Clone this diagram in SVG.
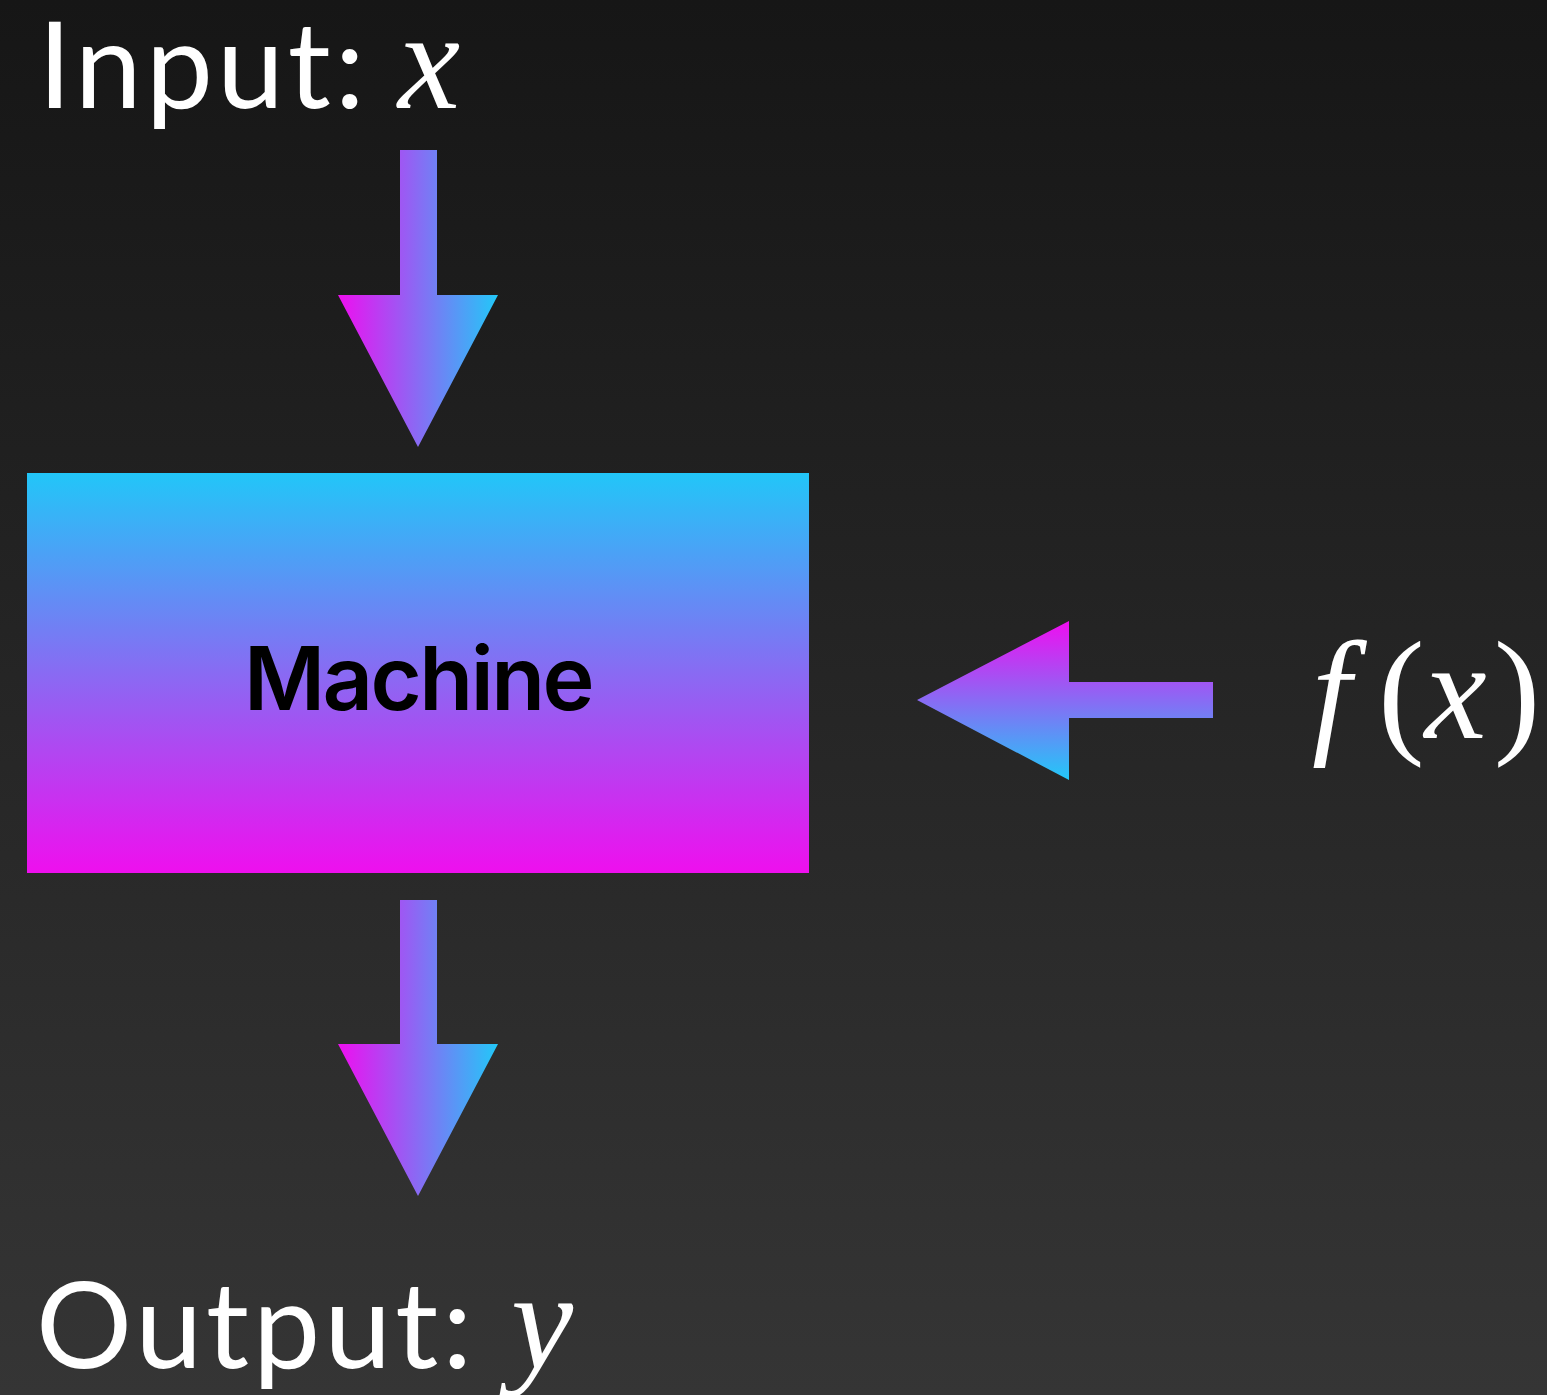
<svg xmlns="http://www.w3.org/2000/svg" width="1547" height="1395" viewBox="0 0 1547 1395">
<defs>
<linearGradient id="bg" x1="0" y1="0" x2="0" y2="1">
<stop offset="0" stop-color="#161616"/>
<stop offset="1" stop-color="#353535"/>
</linearGradient>
<linearGradient id="gh" gradientUnits="objectBoundingBox" x1="0" y1="0" x2="1" y2="0">
<stop offset="0" stop-color="#ef0ef0"/>
<stop offset="1" stop-color="#22c8f8"/>
</linearGradient>
<linearGradient id="gv" x1="0" y1="0" x2="0" y2="1">
<stop offset="0" stop-color="#ef0ef0"/>
<stop offset="1" stop-color="#22c8f8"/>
</linearGradient>
<linearGradient id="gbox" x1="0" y1="0" x2="0" y2="1">
<stop offset="0" stop-color="#22c6f8"/>
<stop offset="1" stop-color="#ef0fee"/>
</linearGradient>
<style>
.lbl{font-family:Lato,"Noto Sans",sans-serif;font-size:120px;fill:#ffffff;letter-spacing:4px}
.math{font-family:"Liberation Serif","DejaVu Serif",serif;font-size:140px;fill:#ffffff;letter-spacing:0}
.it{font-style:italic}
.node{font-family:Inter,"Liberation Sans",sans-serif;font-weight:600;font-size:88px;fill:#000000;letter-spacing:-2.5px}
</style>
</defs>
<rect x="0" y="0" width="1547" height="1395" fill="url(#bg)"/>
<g id="input">
<text class="lbl" x="38" y="108">Input: <tspan class="math it" x="398">x</tspan></text>
</g>
<g id="machine">
<rect x="27" y="473" width="782" height="400" fill="url(#gbox)"/>
<text class="node" x="418" y="710" text-anchor="middle">Machine</text>
</g>
<g id="fx">
<text class="math" x="1312" y="738"><tspan class="it">f</tspan><tspan dx="27">(</tspan><tspan class="it">x</tspan><tspan dx="7">)</tspan></text>
</g>
<g id="output">
<text class="lbl" x="36" y="1368">Output: <tspan class="math it" x="511">y</tspan></text>
</g>
<g id="connectors">
<polygon points="400,150 437,150 437,295 498,295 418,447 338,295 400,295" fill="url(#gh)"/>
<polygon points="400,900 437,900 437,1044 498,1044 418,1196 338,1044 400,1044" fill="url(#gh)"/>
<polygon points="1213,682 1213,718 1069,718 1069,780 917,700 1069,621 1069,682" fill="url(#gv)"/>
</g>
</svg>
